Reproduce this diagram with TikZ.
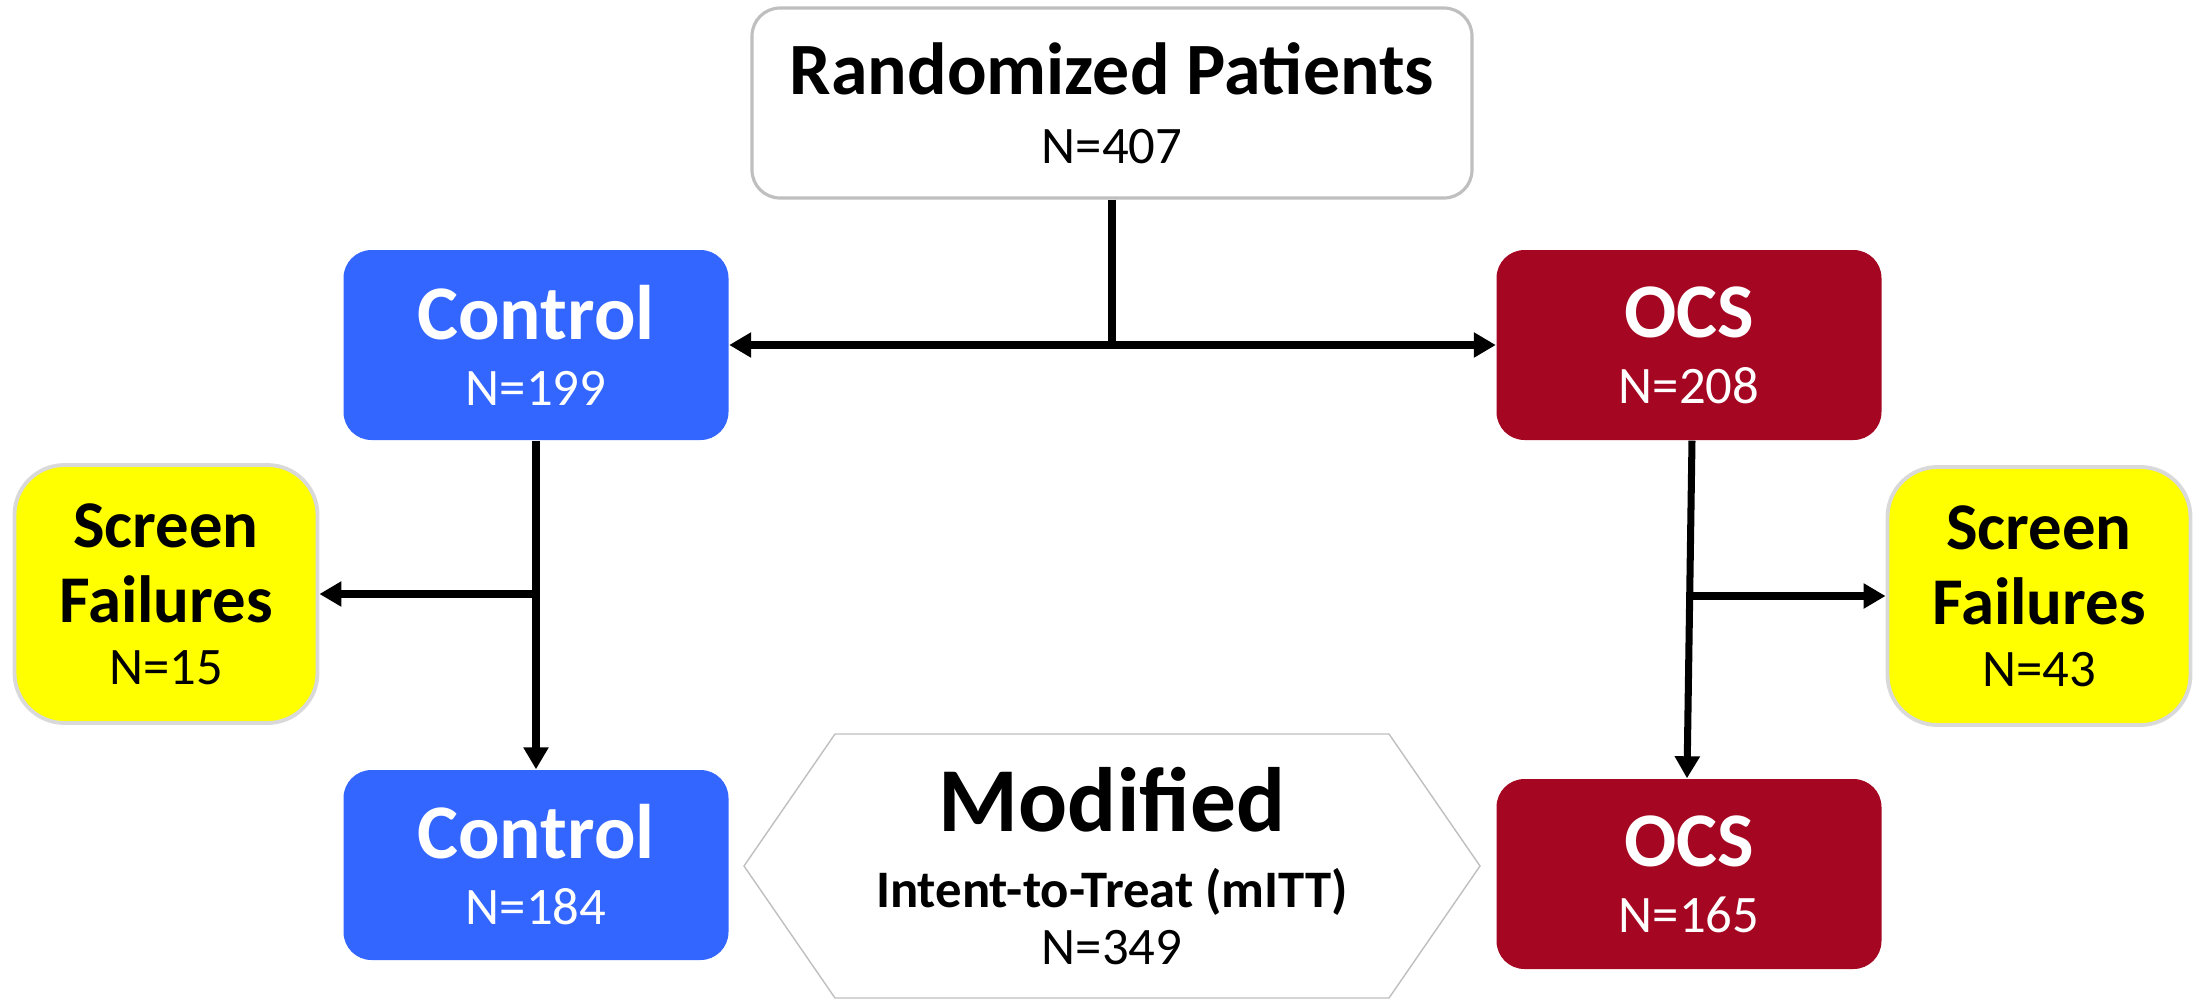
\documentclass[tikz,border=0pt]{standalone}
\usepackage{fontspec}
\setmainfont{Carlito}
\usetikzlibrary{positioning,arrows.meta}
\definecolor{ctrlblue}{HTML}{3366FF}
\definecolor{ocsred}{HTML}{A50621}
\definecolor{failyellow}{HTML}{FFFF00}
\newcommand{\headtxt}[2]{{\fontsize{#1}{#1}\selectfont\bfseries #2}}

\begin{document}
\begin{tikzpicture}[
    armbox/.style={rounded corners=0.28cm, minimum width=3.85cm, minimum height=1.9cm,
      align=center, text=white, font=\fontsize{15}{18.8}\selectfont},
    failbox/.style={draw=black!15, line width=1.1pt, fill=failyellow, rounded corners=0.5cm,
      minimum width=3.03cm, minimum height=2.58cm, align=center, font=\fontsize{15}{17.6}\selectfont},
    flow/.style={line width=2pt, -{Triangle[length=0.22cm,width=0.24cm]}}
  ]
  \useasboundingbox (0,0) rectangle (22.01,-10.01);
  \node[draw=black!25, line width=0.9pt, rounded corners=0.28cm, minimum width=7.2cm,
    minimum height=1.9cm, align=center, font=\fontsize{15}{19.5}\selectfont]
    (Rand) at (11.12,-1.03) {\headtxt{21}{Randomized Patients}\\N=407};
  \node[on grid, below left=2.42cm and 5.76cm of Rand, armbox, fill=ctrlblue] (Ctrl) {\headtxt{22}{Control}\\N=199};
  \node[on grid, below right=2.42cm and 5.77cm of Rand, armbox, fill=ocsred] (Ocs) {\headtxt{22}{OCS}\\N=208};
  \node[on grid, below left=2.49cm and 3.70cm of Ctrl, failbox] (Fail1) {\headtxt{19}{Screen}\\[3.7pt]\headtxt{19}{Failures}\\N=15};
  \node[on grid, below right=2.51cm and 3.50cm of Ocs, failbox] (Fail2) {\headtxt{19}{Screen}\\[3.7pt]\headtxt{19}{Failures}\\N=43};
  \node[on grid, below=5.20cm of Ctrl, armbox, fill=ctrlblue] (Ctrl2) {\headtxt{22}{Control}\\N=184};
  \node[on grid, below=5.29cm of Ocs, armbox, fill=ocsred] (Ocs2) {\headtxt{22}{OCS}\\N=165};
  \node[on grid, below=7.63cm of Rand, align=center, font=\fontsize{15}{16.2}\selectfont]
    (Mitt) {\headtxt{26}{Modified}\\[5.7pt]\textbf{Intent-to-Treat (mITT)}\\N=349};
  \draw[draw=black!25, line width=0.4pt] ([xshift=-3.68cm]Mitt.center) -- ++(0.91,1.32) -- ++(5.54,0)
    -- ++(0.91,-1.32) -- ++(-0.91,-1.32) -- ++(-5.54,0) -- cycle;
  % randomisation split
  \draw[line width=2pt] (Rand.south) -- (Rand.south |- Ctrl.east) coordinate (split);
  \draw[flow] (split) -- (Ctrl.east);
  \draw[flow] (split) -- (Ocs.west);
  % arms
  \draw[flow] (Ctrl.south) -- (Ctrl2.north);
  \draw[flow] (Ctrl.south |- Fail1.east) -- (Fail1.east);
  \draw[flow] ([xshift=0.03cm]Ocs.south) -- ([xshift=-0.02cm]Ocs2.north);
  \draw[flow] (Ocs.south |- Fail2.west) -- (Fail2.west);
\end{tikzpicture}
\end{document}
